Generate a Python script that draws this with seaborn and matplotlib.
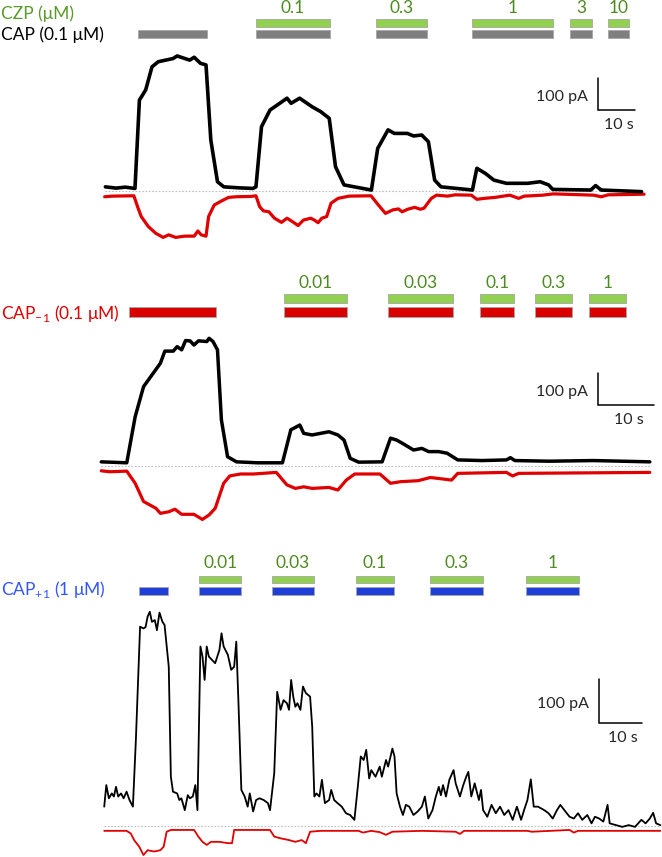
import numpy as np
import seaborn as sns
import matplotlib.pyplot as plt
from matplotlib.transforms import blended_transform_factory

# ---- panel 1 : CAP (0.1 uM) + CZP ----
t1_black = [0.1, 3.0, 5.5, 8.1, 9.3, 11.0, 12.7, 14.4, 18.4, 19.5, 22.9, 24.1, 25.8, 27.3, 28.6,
            30.4, 32.1, 36.0, 40.0, 40.8, 42.3, 44.6, 49.2, 50.3, 52.6, 56.0, 58.3, 60.6, 62.3,
            64.6, 72.0, 73.7, 76.5, 78.2, 81.7, 83.4, 85.6, 87.4, 89.1, 90.8, 99.3, 100.5,
            102.8, 105.1, 108.5, 114.2, 117.6, 119.9, 121.0, 131.3, 132.6, 134.1, 145.0]
i1_black = [13, 9, 12, 8, 284, 316, 388, 404, 414, 422, 409, 418, 399, 394, 159,
            29, 13, 10, 8, 13, 201, 253, 290, 274, 290, 263, 248, 227, 76,
            19, 3, 133, 191, 180, 180, 172, 175, 154, 34, 13, 3, 71,
            55, 34, 24, 24, 29, 19, 5, 3, 17, 3, -2]
t1_red = [-0.1, 1.9, 7.8, 8.8, 9.8, 11.7, 13.7, 15.7, 17.2, 19.1, 21.6, 24.1, 25.1, 26.0, 27.3,
          28.0, 29.5, 31.5, 33.4, 35.4, 39.4, 40.8, 41.8, 42.8, 44.3, 45.8, 47.7, 49.2, 50.7,
          52.2, 53.6, 55.6, 56.6, 57.6, 58.6, 59.9, 61.1, 63.0, 66.0, 71.9, 73.9, 75.8, 77.8,
          79.3, 80.3, 81.8, 83.7, 85.2, 86.2, 88.2, 89.6, 92.6, 94.6, 99.0, 100.5, 102.5,
          105.4, 109.4, 111.8, 113.3, 118.3, 121.2, 132.1, 134.1, 136.0, 145.7]
i1_red = [-18, -16, -15, -49, -80, -111, -132, -145, -137, -145, -141, -141, -125, -137, -141,
          -80, -44, -31, -20, -18, -17, -15, -49, -62, -65, -85, -98, -85, -96,
          -108, -91, -85, -91, -99, -85, -80, -38, -23, -16, -15, -44, -70, -59,
          -56, -65, -57, -51, -57, -54, -23, -13, -16, -12, -13, -26, -23,
          -20, -13, -23, -16, -13, -9, -13, -18, -12, -10]
cap1_on = [(8.9, 27.6), (40.8, 60.8), (73.2, 87.0), (99.2, 121.1), (125.7, 131.6), (135.9, 141.6)]
czp1_on = cap1_on[1:]
czp1_labels = ['0.1', '0.3', '1', '3', '10']

# ---- panel 2 : CAP-1 (0.1 uM) + CZP ----
t2_black = [0.05, 4.6, 6.1, 7.6, 10.6, 11.4, 12.9, 13.6, 14.4, 15.1, 15.9, 16.6, 17.4, 18.9, 19.3,
            20.0, 20.8, 21.5, 22.6, 24.2, 28.0, 32.4, 33.9, 35.5, 36.2, 37.7, 40.7, 42.3, 43.4,
            44.5, 46.0, 50.2, 51.7, 52.8, 54.3, 55.8, 57.3, 58.5, 60.3, 61.8, 63.7, 68.0,
            72.4, 73.1, 73.9, 80.0, 88.0, 98.0]
i2_black = [13, 10, 154, 248, 321, 359, 359, 373, 363, 392, 391, 378, 391, 389, 399,
            389, 363, 144, 29, 13, 10, 10, 113, 128, 102, 97, 107, 97, 81,
            24, 12, 13, 87, 81, 66, 50, 55, 45, 45, 40, 19, 17,
            19, 26, 17, 15, 17, 13]
t2_red = [0.05, 1.6, 4.6, 6.1, 7.6, 9.8, 10.6, 12.1, 13.2, 14.4, 16.6, 18.1, 19.3, 20.4, 21.9,
          23.0, 24.9, 27.2, 31.3, 33.2, 34.7, 36.2, 37.7, 40.7, 42.3, 43.8, 45.3, 49.8,
          51.7, 53.5, 56.6, 58.8, 60.3, 62.6, 63.7, 72.4, 73.5, 74.6, 98.0]
i2_red = [-15, -18, -16, -54, -111, -132, -148, -143, -135, -151, -151, -167, -153, -132, -54,
          -31, -25, -25, -20, -59, -70, -65, -70, -67, -75, -44, -25, -25,
          -54, -49, -46, -36, -39, -44, -23, -20, -31, -23, -20]
cap2_on = [(5.0, 20.5), (32.7, 43.9), (51.3, 62.9), (67.7, 73.8), (77.5, 84.1), (87.1, 93.8)]
czp2_on = cap2_on[1:]
czp2_labels = ['0.01', '0.03', '0.1', '0.3', '1']

# ---- panel 3 : CAP+1 (1 uM) + CZP ----
t3_black = [0.05, 0.54, 1.13, 1.81, 2.30, 2.80, 3.29, 3.97, 4.56, 5.25, 5.93, 6.72, 7.41, 7.90,
            8.39, 9.17, 9.66, 10.15, 10.65, 11.14, 11.82, 12.31, 12.90, 13.59, 14.08, 15.06,
            15.55, 16.04, 17.02, 17.51, 18.00, 18.79, 19.48, 19.97, 20.65, 21.24, 21.73, 22.42,
            22.91, 23.40, 23.89, 24.38, 25.85, 26.84, 27.33, 27.82, 28.80, 29.58, 30.27, 30.76,
            31.25, 31.94, 32.72, 33.41, 33.90, 34.68, 35.37, 36.16, 37.14, 38.12, 38.61, 39.59,
            40.28, 41.06, 41.75, 42.54, 43.03, 43.52, 44.01, 44.50, 44.99, 45.68, 46.27, 46.95,
            47.93, 48.42, 48.91, 49.40, 50.09, 50.68, 51.37, 52.35, 52.84, 53.53, 54.31, 55.29,
            56.27, 57.25, 58.23, 59.02, 59.71, 60.39, 60.98, 61.67, 62.16, 63.14, 64.12, 64.61,
            65.59, 66.08, 67.07, 67.56, 68.05, 68.83, 69.52, 70.20, 70.99, 71.97, 72.95, 73.93,
            74.62, 75.41, 76.39, 77.17, 77.86, 78.35, 78.84, 79.53, 80.31, 81.29, 81.78, 82.77,
            83.55, 84.24, 84.73, 85.42, 86.20, 87.19, 87.68, 88.17, 89.15, 90.13, 91.11, 92.10,
            93.08, 94.06, 95.04, 96.02, 97.00, 97.69, 98.47, 99.26, 99.94, 100.92, 102.39,
            103.37, 104.36, 105.34, 106.12, 107.30, 108.28, 109.26, 110.24, 111.22, 112.40,
            113.38, 114.17, 115.15, 116.13, 117.11, 117.60, 119.08, 120.55, 122.02, 123.49,
            124.97, 125.95, 126.93, 127.71, 128.40, 129.38]
i3_black = [44, 93, 63, 74, 67, 89, 67, 74, 63, 78, 59, 44, 195, 324,
            453, 449, 452, 476, 487, 464, 468, 445, 485, 464, 457, 362,
            112, 78, 74, 59, 63, 36, 70, 63, 67, 93, 36, 408,
            385, 332, 408, 385, 370, 400, 438, 408, 389, 355, 362, 419,
            286, 82, 67, 44, 74, 33, 59, 63, 59, 52, 36, 120,
            305, 264, 286, 279, 264, 332, 294, 271, 279, 264, 317, 302,
            294, 226, 67, 74, 67, 105, 52, 59, 82, 59, 52, 44,
            29, 25, 14, 89, 158, 150, 173, 108, 127, 112, 135, 112,
            150, 135, 176, 158, 74, 44, 25, 48, 44, 25, 33, 44,
            67, 17, 36, 67, 89, 70, 93, 67, 105, 127, 97, 67,
            93, 112, 123, 67, 97, 59, 82, 36, 21, 48, 29, 44,
            25, 36, 14, 44, 14, 36, 59, 106, 44, 44, 36,
            29, 17, 36, 48, 33, 21, 17, 29, 14, 25,
            6, 21, 17, 10, 48, 6, 2, -2, 2, -2,
            14, 6, 17, 30, 6, 2]
t3_red = [0.05, 5.25, 6.23, 7.01, 8.19, 9.17, 10.15, 11.62, 13.10, 13.88, 14.57, 15.55, 20.95,
          21.93, 22.91, 23.89, 24.87, 26.84, 28.80, 29.78, 30.27, 38.61, 39.59, 41.06, 43.03,
          44.50, 45.97, 46.95, 47.93, 50.38, 59.21, 60.20, 62.16, 64.12, 65.59, 67.07, 73.93,
          81.78, 82.77, 83.75, 98.47, 99.45, 108.28, 109.26, 110.24, 129.38]
i3_red = [-11, -11, -17, -32, -47, -66, -55, -58, -55, -47, -13, -9, -9,
          -24, -36, -43, -36, -36, -39, -39, -9, -9, -24, -28, -32,
          -36, -32, -39, -13, -11, -11, -15, -11, -14, -20, -13, -11,
          -13, -18, -11, -11, -13, -9, -15, -11, -11]
cap3_on = [(8.1, 14.9), (22.1, 31.9), (39.1, 48.8), (58.6, 67.4), (75.8, 88.1), (98.1, 110.5)]
czp3_on = cap3_on[1:]
czp3_labels = ['0.01', '0.03', '0.1', '0.3', '1']

# colours
GREEN_BAR = '#92D050'
GREEN_TXT = '#4E8A22'
GRAY_BAR = '#7F7F7F'
RED = '#E00000'
RED_BAR = '#D90000'
BLUE_BAR = '#1F3FD6'
BLUE_TXT = '#3355FF'

sns.set_style('white')
plt.rcParams['font.family'] = ['Lato', 'DejaVu Sans']
plt.rcParams['mathtext.fontset'] = 'custom'
plt.rcParams['mathtext.rm'] = 'Lato'

W, H = 662, 857
fig = plt.figure(figsize=(W / 100, H / 100), dpi=100)


def fy(px):
    return 1 - px / H


# one axes per panel; x in s, y in pA, scaled to match the figure layout
def make_axes(top, bottom, px_per_s, x0, base, px_per_pa):
    ax = fig.add_axes([0, fy(bottom), 1, (bottom - top) / H])
    ax.set_xlim(-x0 / px_per_s, (W - x0) / px_per_s)
    ax.set_ylim((base - bottom) / px_per_pa, (base - top) / px_per_pa)
    ax.axis('off')
    return ax


def draw_bars(ax, spans, y_top, y_bot, color):
    tr = blended_transform_factory(ax.transData, fig.transFigure)
    ax.broken_barh([(a, b - a) for a, b in spans], (fy(y_bot), fy(y_top) - fy(y_bot)),
                   facecolors=color, edgecolors='#A6A6A6', linewidth=0.6, transform=tr)


def draw_labels(ax, spans, labels, y):
    tr = blended_transform_factory(ax.transData, fig.transFigure)
    for (a, b), lab in zip(spans, labels):
        ax.text((a + b) / 2, fy(y), lab, transform=tr, ha='center', va='center',
                color=GREEN_TXT, fontsize=12.5)


def scale_bar(ax, t0, i0, lw):
    ax.plot([t0, t0, t0 + 10], [i0 + 100, i0, i0], color='black', lw=lw, solid_joinstyle='miter')
    ax.annotate('100 pA', (t0, i0 + 50), xytext=(-7, -2), textcoords='offset points',
                ha='right', va='center', fontsize=11.5)
    ax.annotate('10 s', (t0 + 5, i0), xytext=(2, -11), textcoords='offset points',
                ha='center', va='center', fontsize=11.5)


def traces(ax, tb, ib, tr_, ir, t_end, lwb, lwr):
    ax.plot([0, t_end], [0, 0], color='#BFBFBF', lw=0.8, ls=(0, (1.5, 1.5)))
    sns.lineplot(x=tr_, y=ir, ax=ax, color=RED, lw=lwr, estimator=None, sort=False)
    sns.lineplot(x=tb, y=ib, ax=ax, color='black', lw=lwb, estimator=None, sort=False)


# ---------- panel 1 ----------
ax1 = make_axes(0, 255, 3.7, 105, 191, 0.32)
traces(ax1, t1_black, i1_black, t1_red, i1_red, 145.3, 2.6, 2.3)
draw_bars(ax1, czp1_on, 19, 27, GREEN_BAR)
draw_bars(ax1, cap1_on, 30, 38, GRAY_BAR)
draw_labels(ax1, czp1_on, czp1_labels, 8)
scale_bar(ax1, 133.2, 253, 1.1)
fig.text(0.002, fy(14), 'CZP (μM)', color='#5A9A2A', fontsize=12.5, ha='left', va='center')
fig.text(0.002, fy(35), 'CAP (0.1 μM)', color='black', fontsize=12.5, ha='left', va='center')

# ---------- panel 2 ----------
ax2 = make_axes(255, 535, 5.6, 101, 466, 0.32)
traces(ax2, t2_black, i2_black, t2_red, i2_red, 98.2, 2.5, 2.3)
draw_bars(ax2, czp2_on, 294, 303, GREEN_BAR)
draw_bars(ax2, cap2_on, 307, 317, RED_BAR)
draw_labels(ax2, czp2_on, czp2_labels, 283)
scale_bar(ax2, 88.75, 190.6, 1.1)
fig.text(0.002, fy(313), r'CAP$_{\mathregular{-1}}$ (0.1 μM)', color=RED, fontsize=12.5,
         ha='left', va='center')

# ---------- panel 3 ----------
ax3 = make_axes(535, 857, 4.3, 104, 826, 0.44)
traces(ax3, t3_black, i3_black, t3_red, i3_red, 129.6, 1.3, 1.3)
draw_bars(ax3, czp3_on, 576, 583, GREEN_BAR)
draw_bars(ax3, cap3_on, 587, 595, BLUE_BAR)
draw_labels(ax3, czp3_on, czp3_labels, 563)
scale_bar(ax3, 115.1, 234, 1.1)
fig.text(0.002, fy(590), r'CAP$_{\mathregular{+1}}$ (1 μM)', color=BLUE_TXT, fontsize=12.5,
         ha='left', va='center')

fig.savefig('out.png', dpi=100)
